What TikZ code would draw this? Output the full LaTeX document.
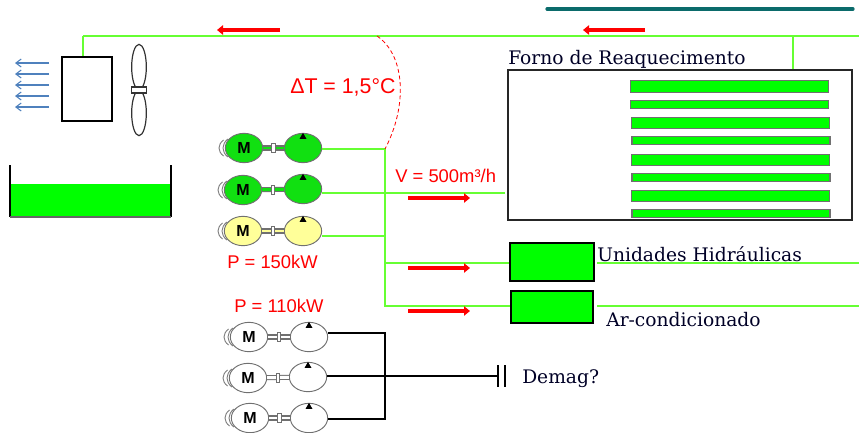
\documentclass[tikz,border=0pt]{standalone}
\usepackage{fontspec}
\setmainfont{DejaVu Serif}
\newfontfamily\labelfont{Liberation Sans}
\usetikzlibrary{arrows.meta,shapes.geometric}
\definecolor{pipegreen}{HTML}{66FF33}
\definecolor{fillgreen}{HTML}{00FF00}
\definecolor{pumpgreen}{HTML}{11E011}
\definecolor{pumpyellow}{HTML}{FFFF99}
\definecolor{ventblue}{HTML}{4F81BD}
\definecolor{edgegray}{HTML}{707070}
\definecolor{topteal}{HTML}{0B6B6B}
\tikzset{
  pipe/.style={draw=pipegreen,line width=1.6pt},
  wire/.style={draw=black,line width=1.5pt},
  flow/.style={draw=red,line width=3.6pt,-{Triangle[length=4.5pt,width=7pt]}},
  vent/.style={draw=ventblue,line width=.8pt,-{Straight Barb[length=4pt,width=6pt]}},
  motor/.style={ellipse,draw=edgegray,line width=.7pt,minimum width=28pt,minimum height=22pt,inner sep=0pt,font=\labelfont\bfseries\fontsize{12}{12}\selectfont},
  shaft/.style={draw=edgegray,line width=.8pt,double distance=2.2pt},
  coupler/.style={draw=edgegray,fill=white,line width=.5pt,minimum width=2.6pt,minimum height=7pt,inner sep=0pt},
  tip/.style={regular polygon,regular polygon sides=3,fill=black,minimum size=6pt,inner sep=0pt},
  swirl/.style={draw=gray,line width=.7pt},
  redlabel/.style={text=red,inner sep=0pt,anchor=west,font=\labelfont\fontsize{13.8}{14}\selectfont},
  serlabel/.style={text=black!85!blue,inner sep=0pt,anchor=west,font=\fontsize{14}{15}\selectfont},
  tankbox/.style={draw=black,line width=1.5pt,fill=fillgreen,inner sep=0pt},
  bigbar/.style={draw=edgegray,fill=fillgreen,line width=.8pt,minimum width=148pt,minimum height=8.5pt,inner sep=0pt},
  thinbar/.style={draw=edgegray,fill=fillgreen,line width=.8pt,minimum width=148.5pt,minimum height=5.5pt,inner sep=0pt},
}
\begin{document}
\begin{tikzpicture}[x=.75pt,y=-.75pt]
  \useasboundingbox (0,0) rectangle (859,432);
  % top
  \coordinate (tealL) at (547,9);
  \coordinate (tealR) at (853,9);
  \draw[topteal,line width=2.4pt,line cap=round] (tealL) -- (tealR);
  \coordinate (topL) at (83,36);
  \coordinate (topR) at (859,36);
  \coordinate (topF) at (793,36);
  \draw[pipe] (topR) -- (topL);
  % cooler and fan
  \node[draw=black,line width=1.6pt,minimum width=37.5pt,minimum height=48pt,inner sep=0pt] (cooler) at (87,89) {};
  \draw[pipe] (topL) -- (topL |- cooler.north);
  \node[ellipse,draw=black!80,line width=.9pt,minimum width=11pt,minimum height=34pt,inner sep=0pt] (bladeA) at (139,67) {};
  \node[ellipse,draw=black!80,line width=.9pt,minimum width=11pt,minimum height=34pt,inner sep=0pt] (bladeB) at (139,113) {};
  \node[draw=black!80,fill=white,line width=.9pt,minimum width=11.5pt,minimum height=4.5pt,inner sep=0pt] (hub) at (139,90) {};
  \coordinate (ventA) at (49,63);
  \coordinate (ventB) at (49,74);
  \coordinate (ventC) at (49,85);
  \coordinate (ventD) at (49,96);
  \coordinate (ventE) at (49,107);
  \coordinate (ventAe) at (15,63);
  \coordinate (ventBe) at (15,74);
  \coordinate (ventCe) at (15,85);
  \coordinate (ventDe) at (15,96);
  \coordinate (ventEe) at (15,107);
  \draw[vent] (ventA) to (ventAe);
  \draw[vent] (ventB) to (ventBe);
  \draw[vent] (ventC) to (ventCe);
  \draw[vent] (ventD) to (ventDe);
  \draw[vent] (ventE) to (ventEe);
  % tank
  \fill[fillgreen] (10,184) rectangle (171,217);
  \draw[black,line width=1.5pt] (10,165) -- (10,217);
  \draw[black,line width=1.5pt] (171,165) -- (171,217);
  \draw[black!60,line width=.8pt] (10,217) -- (171,217);
  % green pumps
  \node[motor,fill=pumpgreen] (m1) at (244,148) {M};
  \node[motor,fill=pumpgreen] (p1) at (303,148) {};
  \node[motor,fill=pumpgreen] (m2) at (243,190) {M};
  \node[motor,fill=pumpgreen] (p2) at (303,189) {};
  \node[motor,fill=pumpyellow] (m3) at (243,231) {M};
  \node[motor,fill=pumpyellow] (p3) at (303,231) {};
  \draw[shaft,double=pumpgreen] (m1) to node[coupler] (c1) {} (p1);
  \draw[shaft,double=pumpgreen] (m2) to node[coupler] (c2) {} (p2);
  \draw[shaft,double=pumpyellow] (m3) to node[coupler] (c3) {} (p3);
  \node[tip,anchor=north] (t1) at ([yshift=.4pt]p1.north) {};
  \node[tip,anchor=north] (t2) at ([yshift=.4pt]p2.north) {};
  \node[tip,anchor=north] (t3) at ([yshift=.4pt]p3.north) {};
  \draw[swirl] ([shift={(140:21 and 14)}]m1.center) arc[start angle=140,end angle=220,x radius=21,y radius=14];
  \draw[swirl] ([shift={(145:25 and 14)}]m1.center) arc[start angle=145,end angle=215,x radius=25,y radius=14];
  \draw[swirl] ([shift={(140:21 and 14)}]m2.center) arc[start angle=140,end angle=220,x radius=21,y radius=14];
  \draw[swirl] ([shift={(145:25 and 14)}]m2.center) arc[start angle=145,end angle=215,x radius=25,y radius=14];
  \draw[swirl] ([shift={(140:21 and 14)}]m3.center) arc[start angle=140,end angle=220,x radius=21,y radius=14];
  \draw[swirl] ([shift={(145:25 and 14)}]m3.center) arc[start angle=145,end angle=215,x radius=25,y radius=14];
  % white pumps
  \node[motor,fill=white] (m4) at (249,337) {M};
  \node[motor,fill=white] (p4) at (309,337) {};
  \node[motor,fill=white] (m5) at (248,378) {M};
  \node[motor,fill=white] (p5) at (308,377) {};
  \node[motor,fill=white] (m6) at (250,418) {M};
  \node[motor,fill=white] (p6) at (309,418) {};
  \draw[shaft,double=white] (m4) to node[coupler] (c4) {} (p4);
  \draw[shaft,double=white] (m5) to node[coupler] (c5) {} (p5);
  \draw[shaft,double=white] (m6) to node[coupler] (c6) {} (p6);
  \node[tip,anchor=north] (t4) at ([yshift=.4pt]p4.north) {};
  \node[tip,anchor=north] (t5) at ([yshift=.4pt]p5.north) {};
  \node[tip,anchor=north] (t6) at ([yshift=.4pt]p6.north) {};
  \draw[swirl] ([shift={(140:21 and 14)}]m4.center) arc[start angle=140,end angle=220,x radius=21,y radius=14];
  \draw[swirl] ([shift={(145:25 and 14)}]m4.center) arc[start angle=145,end angle=215,x radius=25,y radius=14];
  \draw[swirl] ([shift={(140:21 and 14)}]m5.center) arc[start angle=140,end angle=220,x radius=21,y radius=14];
  \draw[swirl] ([shift={(145:25 and 14)}]m5.center) arc[start angle=145,end angle=215,x radius=25,y radius=14];
  \draw[swirl] ([shift={(140:21 and 14)}]m6.center) arc[start angle=140,end angle=220,x radius=21,y radius=14];
  \draw[swirl] ([shift={(145:25 and 14)}]m6.center) arc[start angle=145,end angle=215,x radius=25,y radius=14];
  % furnace
  \node[draw=black!85,line width=1.6pt,minimum width=258pt,minimum height=112.5pt,inner sep=0pt] (forno) at (680,145) {};
  \node[bigbar] (bar1) at (729.5,86.5) {};
  \node[thinbar] (bar2) at (729.5,104.5) {};
  \node[bigbar] (bar3) at (730.5,123) {};
  \node[thinbar] (bar4) at (731,140.5) {};
  \node[bigbar] (bar5) at (730.5,160) {};
  \node[thinbar] (bar6) at (731,177.5) {};
  \node[bigbar] (bar7) at (730.5,196) {};
  \node[thinbar] (bar8) at (731,213.5) {};
  \draw[pipe] (topF) -- (topF |- forno.north);
  % hydraulic and air units
  \node[tankbox,minimum width=63pt,minimum height=28.5pt] (hidr) at (552,262) {};
  \node[tankbox,minimum width=61.5pt,minimum height=24pt] (arco) at (552,307) {};
  % green network
  \coordinate (busT) at (385,149);
  \coordinate (busB) at (385,306);
  \draw[pipe] (p1.east |- busT) -- (busT) -- (busB) -- (arco.west |- busB);
  \coordinate (busA) at (385,193);
  \coordinate (busC) at (385,236);
  \coordinate (busD) at (385,263);
  \coordinate (busAe) at (505,193);
  \draw[pipe] (p2.east |- busA) -- (busA) -- (busAe);
  \draw[pipe] (p3.east |- busC) -- (busC);
  \draw[pipe] (busD) -- (hidr.west |- busD);
  \coordinate (outH) at (597,263);
  \coordinate (outHe) at (859,263);
  \coordinate (outA) at (597,306);
  \coordinate (outAe) at (859,306);
  \draw[pipe] (outH) -- (outHe);
  \draw[pipe] (outA) -- (outAe);
  % black network
  \coordinate (wireT) at (385,333);
  \coordinate (wireM) at (385,376);
  \coordinate (wireB) at (385,419);
  \draw[wire] (p4.east |- wireT) -- (wireT) -- (wireB) -- (p6.east |- wireB);
  \node[minimum width=0pt,minimum height=16pt,inner sep=0pt] (capA) at (498,376) {};
  \node[minimum width=0pt,minimum height=16pt,inner sep=0pt] (capB) at (505,376) {};
  \draw[wire] (p5.east |- wireM) -- (capA);
  \draw[wire] (capA.north) -- (capA.south);
  \draw[wire] (capB.north) -- (capB.south);
  % red arrows
  \coordinate (flowA) at (280,30);
  \coordinate (flowAe) at (217,30);
  \coordinate (flowB) at (645,30);
  \coordinate (flowBe) at (583,30);
  \coordinate (flowC) at (408,198);
  \coordinate (flowCe) at (470,198);
  \coordinate (flowD) at (408,268);
  \coordinate (flowDe) at (470,268);
  \coordinate (flowE) at (408,311);
  \coordinate (flowEe) at (470,311);
  \draw[flow] (flowA) to (flowAe);
  \draw[flow] (flowB) to (flowBe);
  \draw[flow] (flowC) to (flowCe);
  \draw[flow] (flowD) to (flowDe);
  \draw[flow] (flowE) to (flowEe);
  % dashed curve
  \coordinate (dashA) at (377,36);
  \draw[red,densely dashed,line width=.6pt] (dashA) .. controls (405,55) and (408,105) .. (busT);
  % labels
  \node[redlabel,font=\labelfont\fontsize{16}{16}\selectfont] (dt) at (290,87) {ΔT = 1,5°C};
  \node[redlabel] (vol) at (395,176) {V = 500m³/h};
  \node[redlabel] (pA) at (227,262) {P = 150kW};
  \node[redlabel] (pB) at (234,306) {P = 110kW};
  \node[serlabel] (lforno) at (508,59) {Forno de Reaquecimento};
  \node[serlabel] (lhidr) at (597,254) {Unidades Hidráulicas};
  \node[serlabel] (larco) at (606,320) {Ar-condicionado};
  \node[serlabel] (ldem) at (522,379) {Demag?};
\end{tikzpicture}
\end{document}
